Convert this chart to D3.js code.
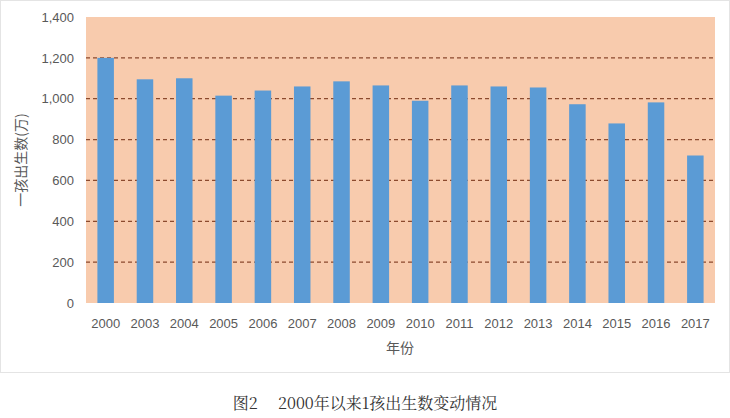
<!DOCTYPE html><html><head><meta charset="utf-8"><script src="https://cdn.jsdelivr.net/npm/d3@7"></script>
<style>body{margin:0;background:#fff}</style></head><body><svg id="c" width="730" height="418"></svg>
<script>
const years=["2000","2003","2004","2005","2006","2007","2008","2009","2010","2011","2012","2013","2014","2015","2016","2017"];
const values=[1200,1095,1100,1015,1040,1060,1085,1065,990,1065,1060,1055,973,879,982,722];
const yTicks=[0,200,400,600,800,1000,1200,1400];
const svg=d3.select("#c");
const L=86,R=715,T=17,B=303;
svg.append("rect").attr("x",0.5).attr("y",0.5).attr("width",729).attr("height",372).attr("fill","none").attr("stroke","#e4e4e4");
const x=d3.scaleBand().domain(years).range([L,R]).paddingInner(0.58).paddingOuter(0.29);
const y=d3.scaleLinear().domain([0,1400]).range([B,T]);
svg.append("rect").attr("x",L).attr("y",T).attr("width",R-L).attr("height",B-T).attr("fill","#f8cbad");
svg.append("g").selectAll("line").data(yTicks.filter(d=>d>0&&d<1400)).join("line")
 .attr("x1",L).attr("x2",R).attr("y1",d=>y(d)).attr("y2",d=>y(d)).attr("stroke","#8b4a2e").attr("stroke-width",1.2).attr("stroke-dasharray","4,3");
svg.append("g").selectAll("rect").data(values).join("rect")
 .attr("x",(d,i)=>x(years[i])).attr("width",x.bandwidth()).attr("y",d=>y(d)).attr("height",d=>B-y(d)).attr("fill","#5b9bd5");
const ya=svg.append("g").attr("transform",`translate(${L},0)`).call(d3.axisLeft(y).tickValues(yTicks).tickSize(0).tickPadding(12));
ya.select(".domain").remove();
ya.selectAll("text").attr("font-family","Liberation Sans, Arial").attr("font-size",13).attr("fill","#595959");
const xa=svg.append("g").attr("transform",`translate(0,${B})`).call(d3.axisBottom(x).tickSize(0).tickPadding(16));
xa.select(".domain").remove();
xa.selectAll("text").attr("font-family","Liberation Sans, Arial").attr("font-size",13).attr("fill","#595959");
svg.append("text").attr("x",400).attr("y",353).attr("text-anchor","middle").attr("font-family","Noto Sans CJK SC").attr("font-size",14).attr("fill","#595959").text("年份");
svg.append("text").attr("transform","translate(26,160) rotate(-90)").attr("text-anchor","middle").attr("font-family","Noto Sans CJK SC").attr("font-size",14).attr("fill","#595959").text("一孩出生数(万)");
svg.append("text").attr("x",365).attr("y",409).attr("text-anchor","middle").attr("font-family","Noto Serif CJK SC, Noto Sans CJK SC").attr("font-size",16).attr("fill","#333").attr("xml:space","preserve").text("图2     2000年以来1孩出生数变动情况");
</script></body></html>
